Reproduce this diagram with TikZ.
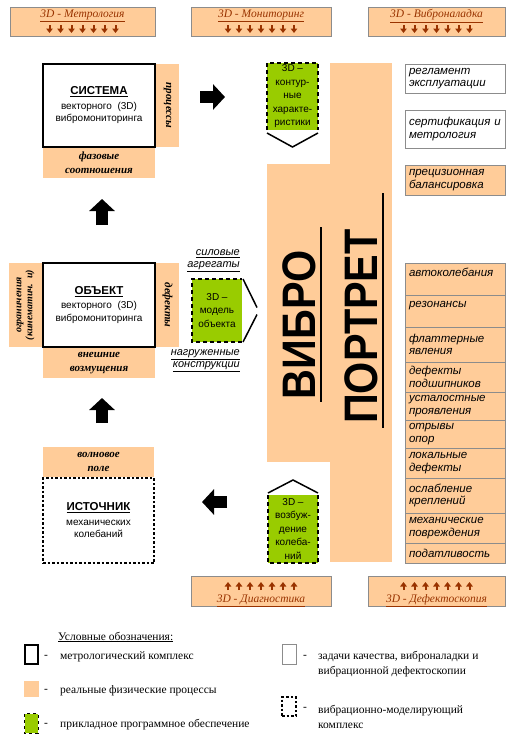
\documentclass[tikz,border=0pt]{standalone}
\usepackage{fontspec}
\usepackage{graphicx}
\setmainfont{Liberation Serif}
\setsansfont{Liberation Sans}
\usetikzlibrary{positioning,
                arrows.meta}
\definecolor{peach}{HTML}{FFCC99}
\definecolor{leaf}{HTML}{99CC00}
\definecolor{rust}{HTML}{993300}
\definecolor{frame}{HTML}{8C8C8C}
\tikzset{
         proc/.style={fill=peach, draw=none, inner sep=0pt, outer sep=0pt},
         metro/.style={draw, line width=2pt, fill=white, inner sep=0pt, outer sep=1pt},
         model/.style={draw, line width=2pt, dash pattern=on 2.5pt off 2pt, inner sep=0pt, outer sep=1pt},
         soft/.style={fill=leaf, draw=none, inner sep=0pt, outer sep=0pt, align=center,
                      font=\sffamily\fontsize{10}{13.5}\selectfont},
         softedge/.style={line width=1.8pt, dash pattern=on 4pt off 3pt},
         task/.style={draw=frame, line width=0.8pt, inner xsep=4pt, inner ysep=0pt, outer sep=0pt,
                      text width=92pt, align=left, font=\sffamily\itshape\fontsize{11.5}{12.5}\selectfont},
         banner/.style={fill=peach, draw=frame, line width=0.8pt, inner sep=0pt},
         bannertext/.style={font=\itshape\fontsize{11.5}{12}\selectfont, text=rust, inner sep=0pt},
         tinyarrow/.style={rust, line width=2pt, -{Triangle[width=6.5pt,length=4.5pt]}},
         bigarrow/.style={line width=12pt, -{Triangle[width=25pt,length=12pt]}},
         boxtitle/.style={font=\sffamily\fontsize{10}{12.5}\selectfont, align=center},
         striptext/.style={font=\bfseries\itshape\fontsize{11}{14}\selectfont, align=center},
         sidenote/.style={font=\sffamily\itshape\fontsize{11}{12}\selectfont, align=right, inner sep=0pt},
         bigword/.style={rotate=90, inner sep=0pt, text depth=0pt,
                         font=\sffamily\bfseries\fontsize{47}{47}\selectfont},
         legendtext/.style={font=\fontsize{11.5}{15}\selectfont, align=left, anchor=west, inner sep=0pt},
         wedge/.style={line width=1.5pt},
}

\begin{document}
\begin{tikzpicture}[x=1pt, y=-1pt]
    \useasboundingbox (0,0) rectangle (515,750);

    % Kopfleisten
    \node[banner, minimum width=145pt, minimum height=29pt] (metr) at (82.5,21.5) {};
    \node[bannertext] (metr_text) at ([yshift=5.5pt]metr.center) {\underline{3D - Метрология}};
    \node[banner, minimum width=140pt, minimum height=29pt] (moni) at (261,21.5) {};
    \node[bannertext] (moni_text) at ([yshift=5.5pt]moni.center) {\underline{3D - Мониторинг}};
    \node[banner, minimum width=137pt, minimum height=29pt] (tune) at (436.5,21.5) {};
    \node[bannertext] (tune_text) at ([yshift=5.5pt]tune.center) {\underline{3D - Виброналадка}};
    \foreach \dx in {-33,-22,...,33} {
        \draw[tinyarrow] ([xshift=\dx pt, yshift=-3.5pt]metr.center) -- ++(0,8);
        \draw[tinyarrow] ([xshift=\dx pt, yshift=-3.5pt]moni.center) -- ++(0,8);
        \draw[tinyarrow] ([xshift=\dx pt, yshift=-3.5pt]tune.center) -- ++(0,8);
    }

    % Fussleisten
    \node[banner, minimum width=140pt, minimum height=30pt] (diag) at (261,591) {};
    \node[bannertext] (diag_text) at ([yshift=-10pt]diag.center) {\underline{3D - Диагностика}};
    \node[banner, minimum width=137pt, minimum height=30pt] (flaw) at (436.5,591) {};
    \node[bannertext] (flaw_text) at ([yshift=-10pt]flaw.center) {\underline{3D - Дефектоскопия}};
    \foreach \dx in {-33,-22,...,33} {
        \draw[tinyarrow] ([xshift=\dx pt, yshift=1pt]diag.center) -- ++(0,-8);
        \draw[tinyarrow] ([xshift=\dx pt, yshift=1pt]flaw.center) -- ++(0,-8);
    }

    % System
    \node[metro, boxtitle, minimum width=112pt, minimum height=83pt] (sys) at (99,105.5)
        {{\bfseries\fontsize{11.5}{13}\selectfont\underline{СИСТЕМА}}\\[2pt]
         векторного~~(3D)\\вибромониторинга};
    \node[proc, minimum width=23pt, minimum height=83pt, right=0pt of sys] (sysR) {};
    \node[striptext, rotate=-90] (sysR_text) at (sysR.center) {процессы};
    \node[proc, striptext, minimum width=112pt, minimum height=30pt, below=0pt of sys] (sysB)
        {фазовые\\соотношения};

    % Objekt
    \node[metro, boxtitle, minimum width=112pt, minimum height=84pt] (obj) at (99,305)
        {{\bfseries\fontsize{11.5}{13}\selectfont\underline{ОБЪЕКТ}}\\[2pt]
         векторного~~(3D)\\вибромониторинга};
    \node[proc, minimum width=33pt, minimum height=84pt, left=0pt of obj] (objL) {};
    \node[striptext, rotate=90, font=\bfseries\itshape\fontsize{10}{11}\selectfont] (objL_text)
        at (objL.center) {ограничения\\(кинематич.~~и)};
    \node[proc, minimum width=23pt, minimum height=84pt, right=0pt of obj] (objR) {};
    \node[striptext, rotate=-90] (objR_text) at (objR.center) {дефекты};
    \node[proc, striptext, minimum width=112pt, minimum height=30pt, below=0pt of obj] (objB)
        {внешние\\возмущения};

    % Quelle
    \node[model, boxtitle, minimum width=111pt, minimum height=85pt] (src) at (98.5,520.5)
        {{\bfseries\fontsize{11.5}{13}\selectfont\underline{ИСТОЧНИК}}\\[2pt]
         механических\\колебаний};
    \node[proc, striptext, minimum width=111pt, minimum height=30pt, above=0pt of src] (srcT)
        {волновое\\поле};

    % Blockpfeile
    \coordinate (a1s) at (200,97);  \coordinate (a1e) at (225,97);
    \coordinate (a2s) at (102,225); \coordinate (a2e) at (102,199);
    \coordinate (a3s) at (102,423); \coordinate (a3e) at (102,398);
    \coordinate (a4s) at (227,502); \coordinate (a4e) at (202,502);
    \draw[bigarrow] (a1s) -- (a1e);
    \draw[bigarrow] (a2s) -- (a2e);
    \draw[bigarrow] (a3s) -- (a3e);
    \draw[bigarrow] (a4s) -- (a4e);

    % Vibroportraet
    \node[proc, minimum width=63pt, minimum height=298pt] (vib) at (298.5,313) {};
    \node[proc, minimum width=62pt, minimum height=499pt] (port) at (361,312.5) {};
    \node[bigword] (vib_text) at (299,325) {\scalebox{0.88}[1]{ВИБРО}};
    \node[bigword] (port_text) at (361.5,326.5) {\scalebox{0.88}[1]{ПОРТРЕТ}};
    \draw[line width=1.6pt] (321,227) -- (321,402);
    \draw[line width=1.6pt] (383,193) -- (383,428);

    % Software
    \node[soft, minimum width=51pt, minimum height=67pt] (contour) at (292.5,96.5)
        {3D –\\контур-\\ные\\характе-\\ристики};
    \draw[softedge] (contour.south west) -- (contour.north west)
                    -- (contour.north east) -- (contour.south east);
    \draw[wedge] ([yshift=-3pt]contour.south west) -- ([yshift=-17pt]contour.south)
                 -- ([yshift=-3pt]contour.south east);

    \node[soft, minimum width=50pt, minimum height=63pt] (model) at (217,310.5)
        {3D –\\модель\\объекта};
    \draw[softedge] (model.south east) -- (model.south west)
                    -- (model.north west) -- (model.north east);
    \draw[wedge] ([xshift=1pt]model.north east) -- ([xshift=15pt, yshift=3pt]model.east);
    \draw[wedge] ([xshift=15pt, yshift=-4pt]model.east) -- ([xshift=1pt]model.south east);
    \node[sidenote, anchor=east] (forces) at (240,261) {\underline{силовые}\\\underline{агрегаты}};
    \node[sidenote, anchor=east] (loads) at (240,361) {\underline{нагруженные}\\\underline{конструкции}};

    \node[soft, minimum width=50pt, minimum height=68pt] (excite) at (293,529)
        {3D –\\возбуж-\\дение\\колеба-\\ний};
    \draw[softedge] (excite.north west) -- (excite.south west)
                    -- (excite.south east) -- (excite.north east);
    \draw[wedge] ([yshift=2pt]excite.north west) -- ([yshift=15pt]excite.north)
                 -- ([yshift=2pt]excite.north east);

    % Aufgaben
    \node[task, minimum height=29pt] (regl) at (455,78.5) {регламент\\эксплуатации};
    \node[task, minimum height=38pt] (cert) at (455,129) {сертификация и\\метрология};
    \node[task, fill=peach, minimum height=30pt] (prec) at (455,180) {прецизионная\\балансировка};

    % Erscheinungen
    \node[task, fill=peach, minimum height=32pt, anchor=north] (r1) at (455,263) {автоколебания\\~};
    \node[task, fill=peach, minimum height=32pt, below=0pt of r1] (r2) {резонансы\\~};
    \node[task, fill=peach, minimum height=35pt, below=0pt of r2] (r3) {флаттерные\\явления};
    \node[task, fill=peach, minimum height=30pt, below=0pt of r3] (r4) {дефекты\\подшипников};
    \node[task, fill=peach, minimum height=28pt, below=0pt of r4] (r5) {усталостные\\проявления};
    \node[task, fill=peach, minimum height=28pt, below=0pt of r5] (r6) {отрывы\\опор};
    \node[task, fill=peach, minimum height=30pt, below=0pt of r6] (r7) {локальные\\дефекты};
    \node[task, fill=peach, minimum height=35pt, below=0pt of r7] (r8) {ослабление\\креплений};
    \node[task, fill=peach, minimum height=30pt, below=0pt of r8] (r9) {механические\\повреждения};
    \node[task, fill=peach, minimum height=20pt, below=0pt of r9] (r10) {податливость};

    % Legende
    \node[legendtext] (leg_title) at (58,637) {\underline{Условные обозначения:}};
    \node[draw, line width=2.5pt, minimum width=13pt, minimum height=19pt, inner sep=0pt] (lg1) at (31.5,654.5) {};
    \node[legendtext] (lg1_dash) at (44,657) {-};
    \node[legendtext] (lg1_text) at (60,657) {метрологический комплекс};
    \node[proc, minimum width=15pt, minimum height=16pt] (lg2) at (31.5,689) {};
    \node[legendtext] (lg2_dash) at (44,691) {-};
    \node[legendtext] (lg2_text) at (60,691) {реальные физические процессы};
    \node[fill=leaf, minimum width=13pt, minimum height=19pt, inner sep=0pt] (lg3) at (31.5,723.5) {};
    \draw[line width=1.2pt, dash pattern=on 3pt off 3pt] (lg3.north west) rectangle (lg3.south east);
    \node[legendtext] (lg3_dash) at (44,725) {-};
    \node[legendtext] (lg3_text) at (60,725) {прикладное программное обеспечение};
    \node[draw=frame, line width=0.8pt, minimum width=14pt, minimum height=20pt, inner sep=0pt] (lg4) at (289,654) {};
    \node[legendtext] (lg4_dash) at (303,657) {-};
    \node[legendtext] (lg4_text) at (318,664.5) {задачи качества, виброналадки и\\вибрационной дефектоскопии};
    \node[model, minimum width=14pt, minimum height=19pt] (lg5) at (289,706.5) {};
    \node[legendtext] (lg5_dash) at (303,709) {-};
    \node[legendtext] (lg5_text) at (318,716.5) {вибрационно-моделирующий\\комплекс};
\end{tikzpicture}
\end{document}
